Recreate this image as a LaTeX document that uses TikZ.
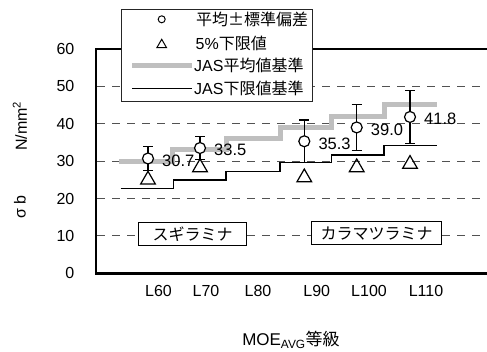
\documentclass[tikz,border=0pt]{standalone}
\usepackage{fontspec}
\setmainfont{Liberation Sans}
\newfontfamily\jp{Noto Sans CJK JP}
\usetikzlibrary{shapes.geometric}

\begin{document}
\begin{tikzpicture}[
    x=1pt, y=-1pt,
    every node/.style={inner sep=0pt, font=\fontsize{16}{16}\selectfont},
    gridln/.style={black!68, line width=0.9pt, dash pattern=on 8pt off 7pt},
    frame/.style={line width=2.6pt},
    meanstep/.style={black!25, line width=5pt},
    lowstep/.style={line width=1.4pt},
    bar/.style={line width=1.2pt},
    dot/.style={circle, draw, fill=white, line width=1.2pt, minimum size=11pt},
    tri/.style={regular polygon, regular polygon sides=3, draw, line width=1.2pt, minimum size=17pt},
    sbox/.style={draw, fill=white, line width=0.9pt, minimum width=#1, minimum height=23pt,
                 font=\jp\fontsize{16}{16}\selectfont},
]
  \useasboundingbox (0,0) rectangle (487,352);

  % data part: x in px, y in N/mm2
  \begin{scope}[shift={(0,273.3)}, y=3.74pt]
    \foreach \v in {10,20,...,50}
      \draw [gridln] (97,\v) -- (487,\v);

    \draw [meanstep] (119.3,30) -| (172.7,33) -| (226,36) -| (280,39)
                     -| (331.7,42) -| (384,45) -- (437.3,45);
    \draw [lowstep]  (120.7,22.6) -| (173.3,24.9) -| (226,27.2) -| (280,29.6)
                     -| (331.7,31.6) -| (384,34.1) -- (437.3,34.1);

    \foreach \x/\m/\s/\t/\lbl [count=\i] in {148/30.7/3.2/25.0/30.7, 200/33.5/3.0/28.3/33.5,
        304.3/35.3/5.7/25.6/35.3, 356.7/39.0/6.1/28.3/39.0, 410/41.8/7.1/29.2/41.8} {
      \draw [bar] (\x,\m-\s) -- (\x,\m+\s)
                  (\x-5,\m+\s) -- (\x+5,\m+\s)
                  (\x-5,\m-\s) -- (\x+5,\m-\s);
      \node [dot]          (m\i) at (\x,\m)         {};
      \node [tri]          (t\i) at (\x,\t)         {};
      \node [anchor=west, font=\fontsize{16.5}{16.5}\selectfont]
                           (v\i) at (\x+14,\m-0.6) {\lbl};
    }
  \end{scope}

  % axes and labels
  \draw [frame] (487,49) -| (95.8,273.7) -- (487,273.7);

  \foreach \v/\y in {0/273.3,10/235.9,20/198.5,30/161.1,40/123.7,50/86.3,60/49}
    \node [anchor=east] (y\v) at (74.5,\y) {\v};

  \foreach \g/\x in {60/158.5,70/206,80/258,90/316.7,100/369,110/426}
    \node (x\g) at (\x,290.7) {L\g};

  \node [rotate=90] (unit)  at (20,126) {N/mm\textsuperscript{2}};
  \node [rotate=90] (sigma) at (20,207) {σ b};
  \node [font=\fontsize{17}{17}\selectfont] (xlab) at (291,340) {MOE\textsubscript{AVG}{\jp 等級}};

  \node [sbox=108pt] (sugi) at (192.5,233.7) {スギラミナ};
  \node [sbox=130pt] (kara) at (376.7,233.4) {カラマツラミナ};

  % legend
  \node [draw=black!85, fill=white, line width=0.9pt, minimum width=191.5pt,
         minimum height=92.5pt] (leg) at (216.75,55.25) {};
  \node [dot, minimum size=7pt, line width=1pt]  (ld) at (161.7,19.3) {};
  \node [tri, minimum size=11pt, line width=1pt] (lt) at (161.7,44.8) {};
  \coordinate (g1) at (132,65.7);  \coordinate (g2) at (192,65.7);
  \coordinate (k1) at (132,88.3);  \coordinate (k2) at (192,88.3);
  \draw [meanstep, line width=4.5pt] (g1) -- (g2);
  \draw [lowstep, line width=1.2pt]  (k1) -- (k2);
  \node [anchor=west] (l1) at (196,19.3) {\jp 平均±標準偏差};
  \node [anchor=west] (l2) at (195.5,43) {5\%{\jp 下限値}};
  \node [anchor=west] (l3) at (194,65.7) {JAS{\jp 平均値基準}};
  \node [anchor=west] (l4) at (194,88.3) {JAS{\jp 下限値基準}};
\end{tikzpicture}
\end{document}
